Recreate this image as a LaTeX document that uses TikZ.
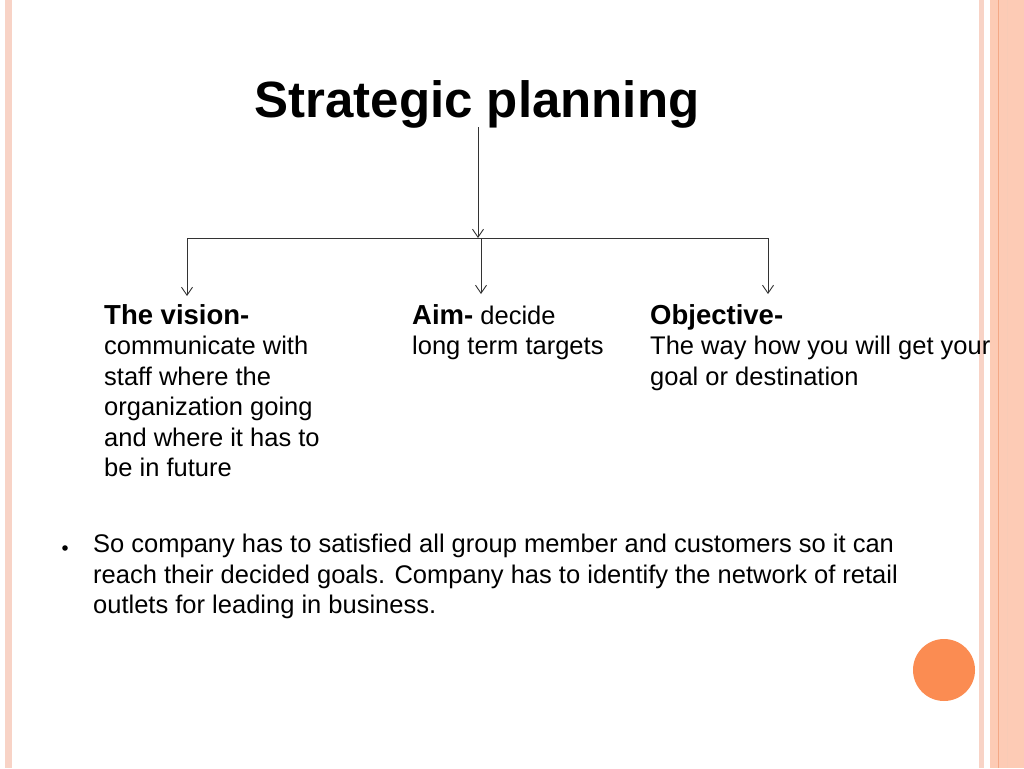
\documentclass[tikz,border=0pt]{standalone}
\usepackage{fontspec}
\setmainfont{Liberation Sans}
\usetikzlibrary{arrows.meta}
\definecolor{peach}{HTML}{FDCBB5}
\definecolor{peachd}{HTML}{F4A886}
\definecolor{peachl}{HTML}{F8D3C6}
\definecolor{dotc}{HTML}{FB8C52}
\begin{document}
\begin{tikzpicture}[x=1pt,y=-1pt,
  con/.style={draw=black!80,line width=0.9pt},
  arr/.style={con,-{Straight Barb[length=8pt,width=11pt]}},
  body/.style={anchor=north west,align=left,inner sep=0pt,font=\fontsize{25.5}{30.5}\selectfont}]
\useasboundingbox (0,0) rectangle (1024,768);
\fill[white] (0,0) rectangle (1024,768);
% borders
\fill[peachl] (5,0) rectangle (12,768);
\fill[peachl] (979,0) rectangle (984,768);
\fill[peach] (990,0) rectangle (1024,768);
\draw[peachd,line width=0.8pt] (998.5,0) -- (998.5,768);
\draw[peachd!60,line width=0.8pt] (1007,0) -- (1007,768);
\fill[dotc] (944,670) circle (31);
% title
\node[inner sep=0pt,anchor=base,font=\bfseries\fontsize{51}{54}\selectfont] (title) at (477,117) {Strategic planning};
\coordinate (j) at (478,238);
\coordinate (l) at (187,238);
\coordinate (r) at (768,238);
\draw[arr] (478,127) -- (j);
\draw[con] (l) -- (r);
\coordinate (la) at (187,296);
\coordinate (ma) at (481,294);
\coordinate (ra) at (768,294);
\draw[arr] (l) -- (la);
\draw[arr] (481,238) -- (ma);
\draw[arr] (r) -- (ra);
\node[body] (vision) at (104,304) {\textbf{\fontsize{27.5}{30.5}\selectfont The vision-}\\communicate with\\staff where the\\organization going\\and where it has to\\be in future};
\node[body] (aim) at (412,304) {\textbf{\fontsize{27.5}{30.5}\selectfont Aim-} decide\\long term targets};
\node[body] (obj) at (650,304) {\textbf{\fontsize{27.5}{30.5}\selectfont Objective-}\\The way how you will get your\\goal or destination};
\node[body] (bul) at (93,534) {So company has to satisfied all group member and customers so it can\\reach their decided goals. Company has to identify the network of retail\\outlets for leading in business.};
\fill (65,548) circle (2.8);
\end{tikzpicture}
\end{document}
